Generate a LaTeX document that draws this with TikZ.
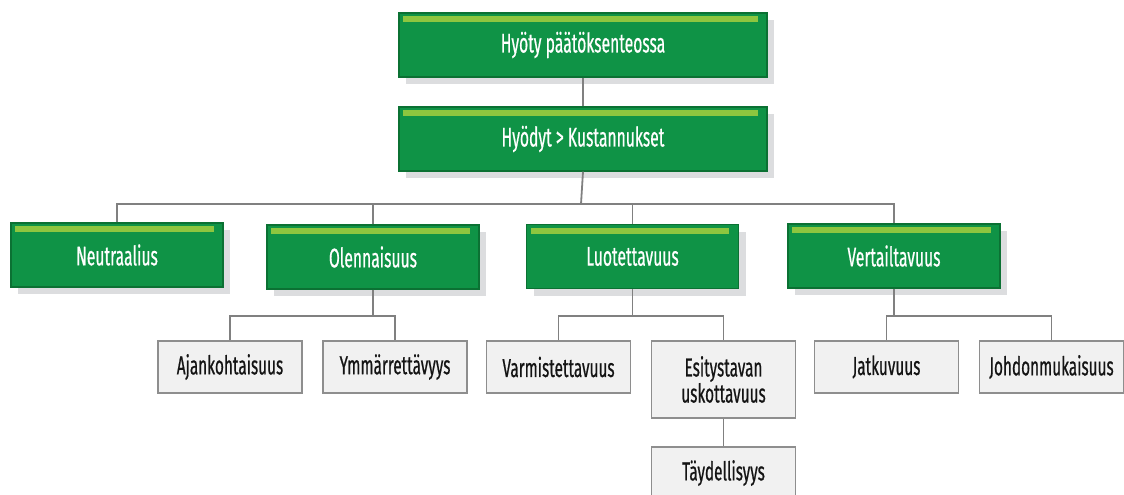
\documentclass[tikz,border=0pt]{standalone}
\usepackage{fontspec}
\usetikzlibrary{shadows}
\newfontfamily\headfont[FakeStretch=0.58, FakeBold=0.5]{Fira Sans}
\newfontfamily\leaffont[FakeStretch=0.59, FakeBold=0.6]{Fira Sans}
\definecolor{boxgreen}{HTML}{0F9346}
\definecolor{boxgreenedge}{HTML}{0B7133}
\definecolor{bargreen}{HTML}{8DC63F}
\definecolor{shadowgray}{HTML}{DCDDDF}
\definecolor{leaffill}{HTML}{F1F1F1}
\definecolor{leafedge}{HTML}{8E8E8E}
\definecolor{linkgray}{HTML}{808080}
\definecolor{leaftext}{HTML}{141414}
\tikzset{
  greenbox/.style={draw=boxgreenedge, line width=1.4pt, fill=boxgreen,
    text=white, inner sep=0pt, minimum width=212pt, minimum height=64pt,
    font=\headfont\fontsize{27}{30}\selectfont,
    drop shadow={shadow xshift=7pt, shadow yshift=-7pt, fill=shadowgray, opacity=1}},
  widebox/.style={greenbox, minimum width=368pt},
  leafbox/.style={draw=leafedge, line width=1.6pt, fill=leaffill, text=leaftext,
    inner sep=0pt, minimum width=144pt, minimum height=52pt, align=center,
    font=\leaffont\fontsize{26}{25}\selectfont},
  link/.style={draw=linkgray, line width=1.8pt},
  topbar/.style={fill=bargreen}
}
\newcommand{\greenbar}[1]{\fill[topbar] ([shift={(5,4)}]#1.north west) rectangle ([shift={(-10,10)}]#1.north east);}
\begin{document}
\begin{tikzpicture}[x=1pt, y=-1pt]
\useasboundingbox (0,0) rectangle (1124,495);

% top levels
\node[widebox] (goal) at (583,45) {Hyöty päätöksenteossa};
\node[widebox] (cost) at (583,139) {Hyödyt > Kustannukset};

% qualitative characteristics
\node[greenbox] (neu) at (117,255) {Neutraalius};
\node[greenbox] (ole) at (373,257) {Olennaisuus};
\node[greenbox] (luo) at (632.5,256.5) {Luotettavuus};
\node[greenbox] (ver) at (894,256) {Vertailtavuus};

\foreach \n in {goal,cost,neu,ole,luo,ver} {\greenbar{\n}}

% sub-characteristics
\node[leafbox] (ajk) at (230,367) {Ajankohtaisuus};
\node[leafbox] (ymm) at (395,367) {Ymmärrettävyys};
\node[leafbox] (var) at (558.5,367) {Varmistettavuus};
\node[leafbox, minimum height=77pt] (esi) at (723.5,379.5) {Esitystavan\\uskottavuus};
\node[leafbox] (tay) at (723.5,473) {Täydellisyys};
\node[leafbox] (jat) at (886.5,367) {Jatkuvuus};
\node[leafbox] (joh) at (1051.5,367) {Johdonmukaisuus};

% connectors
\draw[link] (goal.south) -- (cost.north);
\coordinate (busA) at (581,204);
\draw[link] (cost.south) -- (busA);
\draw[link] (neu.north) |- (busA) -| (ver.north);
\draw[link] (ole.north) |- (busA);
\draw[link] (luo.north) |- (busA);
\coordinate (busB) at (0,316);
\draw[link] (ole.south) -- (ole.south |- busB);
\draw[link] (ajk.north) |- (ole.south |- busB) -| (ymm.north);
\draw[link] (luo.south) -- (luo.south |- busB);
\draw[link] (var.north) |- (luo.south |- busB) -| (esi.north);
\draw[link] (ver.south) -- (ver.south |- busB);
\draw[link] (jat.north) |- (ver.south |- busB) -| (joh.north);
\draw[link] (esi.south) -- (tay.north);
\end{tikzpicture}
\end{document}
